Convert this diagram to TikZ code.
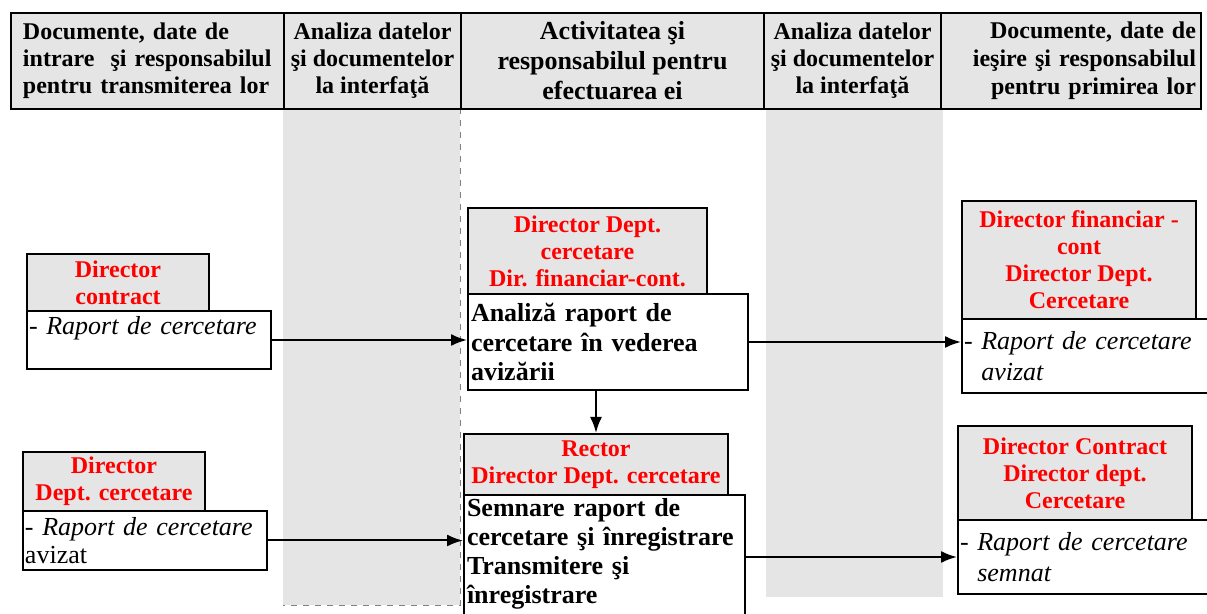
\documentclass[tikz,border=0pt]{standalone}
\usepackage{fontspec}
\setmainfont{Liberation Serif}
\usetikzlibrary{arrows.meta}
\definecolor{cellgray}{gray}{0.9}

\begin{document}
\begin{tikzpicture}[x=0.5pt,y=-0.5pt,
  cell/.style={draw,line width=1pt,fill=cellgray,anchor=north west,inner xsep=1pt,inner ysep=0pt,minimum height=48pt,font=\bfseries\fontsize{12}{13.5}\selectfont},
  resp/.style={draw,line width=1pt,fill=cellgray,anchor=north west,align=center,inner sep=0pt,text=red,font=\bfseries\fontsize{12}{13.5}\selectfont},
  doc/.style={draw,line width=1pt,fill=white,anchor=north west,align=left,inner xsep=1pt,inner ysep=1.5pt,font=\fontsize{13}{15}\selectfont},
  act/.style={doc,inner xsep=1.5pt,font=\bfseries\fontsize{13}{14.6}\selectfont},
  flow/.style={line width=1pt,-{Latex[length=8pt,width=6pt]}}]
\useasboundingbox (0,0) rectangle (1207,614);
\clip (0,0) rectangle (1207,614);
\fill[cellgray] (283,108) rectangle (460,605);
\draw[gray,dashed,line width=0.4pt] (460,108) -- (460,605) -- (283,605);
\fill[cellgray] (766,108) rectangle (943,597);
\node[cell,minimum width=136.5pt,text width=124.5pt,inner xsep=6pt,align=left] (hIn) at (10,12) {Documente, date de\\intrare\ \ şi responsabilul\\pentru transmiterea lor};
\node[cell,minimum width=88.5pt,align=center] (hAnA) at (283,12) {Analiza datelor\\şi documentelor\\la interfaţă};
\node[cell,minimum width=151.5pt,align=center,font=\bfseries\fontsize{13}{15}\selectfont] (hAct) at (460,12) {Activitatea şi\\responsabilul pentru\\efectuarea ei};
\node[cell,minimum width=88.5pt,align=center] (hAnB) at (763,12) {Analiza datelor\\şi documentelor\\la interfaţă};
\node[cell,minimum width=130pt,text width=125pt,inner xsep=2.5pt,align=right,font=\bfseries\fontsize{12}{14}\selectfont] (hOut) at (940,12) {Documente, date de\\ieşire şi responsabilul\\pentru primirea lor};
\node[resp,minimum width=91pt,minimum height=28.5pt] (inArsp) at (26,253) {Director\\contract};
\node[doc,text width=120pt,minimum height=29pt] (inAdoc) at (26,310) {- \textit{Raport de cercetare}\\\mbox{}};
\node[resp,minimum width=91pt,minimum height=29.5pt] (inBrsp) at (22,451) {Director\\Dept. cercetare};
\node[doc,text width=120pt,minimum height=29.5pt,font=\fontsize{13}{14}\selectfont] (inBdoc) at (22,510) {- \textit{Raport de cercetare}\\avizat};
\node[resp,minimum width=119.5pt,minimum height=43pt] (actArsp) at (467,207) {Director Dept.\\cercetare\\Dir. financiar-cont.};
\node[act,text width=137pt,minimum height=48pt] (actAdoc) at (467,293) {Analiză raport de\\cercetare în vederea\\avizării};
\node[resp,minimum width=132pt,minimum height=30.5pt] (actBrsp) at (463,433) {Rector\\Director Dept. cercetare};
\node[act,text width=137.5pt] (actBdoc) at (463,494) {Semnare raport de\\cercetare şi înregistrare\\Transmitere şi\\înregistrare\\\mbox{}};
\node[resp,minimum width=117pt,minimum height=59pt] (outArsp) at (961,200) {Director financiar -\\cont\\Director Dept.\\Cercetare};
\node[doc,text width=125pt,minimum height=37pt,font=\fontsize{13}{15.5}\selectfont] (outAdoc) at (961,318) {- \textit{Raport de cercetare}\\\phantom{- }\textit{avizat}};
\node[resp,minimum width=117pt,minimum height=47pt] (outBrsp) at (957,425) {Director Contract\\Director dept.\\Cercetare};
\node[doc,text width=125pt,minimum height=37pt,font=\fontsize{13}{15.5}\selectfont] (outBdoc) at (957,519) {- \textit{Raport de cercetare}\\\phantom{- }\textit{semnat}};
\draw[flow] (inAdoc.east) -- (inAdoc.east -| actAdoc.west);
\draw[flow] (actAdoc.east) -- (actAdoc.east -| outAdoc.west);
\draw[flow] (actBrsp.north |- actAdoc.south) -- (actBrsp.north);
\draw[flow] (inBdoc.east) -- (inBdoc.east -| actBdoc.west);
\draw[flow] (outBdoc.west -| actBdoc.east) -- (outBdoc.west);
\end{tikzpicture}
\end{document}
